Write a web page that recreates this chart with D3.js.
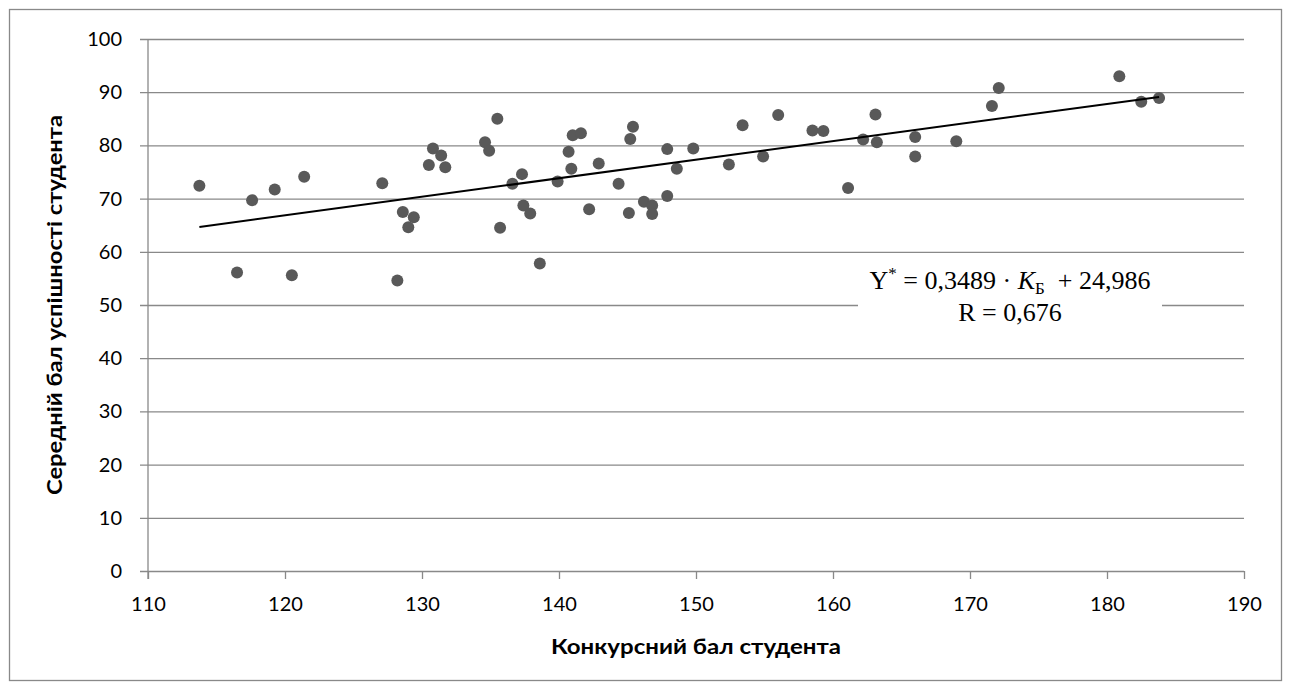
<!DOCTYPE html>
<html>
<head>
<meta charset="utf-8">
<script src="https://cdn.jsdelivr.net/npm/d3@7/dist/d3.min.js"></script>
<style>
  body { margin: 0; background: #fff; }
  svg { display: block; }
</style>
</head>
<body>
<script>
// data
var konkursBal = [113.75, 116.5, 117.6, 119.25, 120.5, 121.4, 127.1, 128.2, 128.6, 129.0,
  129.4, 130.5, 130.8, 131.4, 131.7, 134.6, 134.9, 135.5, 135.7, 136.6,
  137.3, 137.4, 137.9, 138.6, 139.9, 140.7, 140.9, 141.0, 141.6, 142.2,
  142.9, 144.35, 145.1, 145.2, 145.4, 146.2, 146.8, 146.8, 147.9, 147.9,
  148.6, 149.8, 152.4, 153.4, 154.9, 156.0, 158.5, 159.3, 161.1, 162.2,
  163.1, 163.2, 166.0, 166.0, 169.0, 171.6, 172.1, 180.9, 182.5, 183.8];
var serBal = [72.4, 56.1, 69.7, 71.7, 55.6, 74.1, 72.9, 54.6, 67.5, 64.6,
  66.5, 76.3, 79.4, 78.1, 75.9, 80.6, 79.0, 85.0, 64.5, 72.8,
  74.6, 68.7, 67.2, 57.8, 73.2, 78.8, 75.6, 81.9, 82.3, 68.0,
  76.6, 72.8, 67.3, 81.2, 83.5, 69.4, 68.7, 67.1, 70.5, 79.3,
  75.6, 79.4, 76.4, 83.8, 77.9, 85.7, 82.8, 82.7, 72.0, 81.1,
  85.8, 80.6, 81.6, 77.9, 80.8, 87.4, 90.8, 93.0, 88.2, 88.9];
var xTicks = [110, 120, 130, 140, 150, 160, 170, 180, 190];
var yTicks = [0, 10, 20, 30, 40, 50, 60, 70, 80, 90, 100];
var slope = 0.3489, intercept = 24.986;

var full_width = 1290, full_height = 689;
var margin = {top: 39, right: 46, bottom: 118, left: 148};
var width = full_width - margin.left - margin.right,
    height = full_height - margin.top - margin.bottom;

var gridColor = "#898989";

var svg = d3.select("body").append("svg")
  .attr("width", full_width)
  .attr("height", full_height);

// outer chart border
svg.append("rect")
  .attr("x", 9.5).attr("y", 9.5)
  .attr("width", 1272).attr("height", 671)
  .attr("fill", "#fff")
  .attr("stroke", gridColor)
  .attr("stroke-width", 1.3);

var g = svg.append("g")
  .attr("transform", "translate(" + margin.left + "," + margin.top + ")");

var x = d3.scaleLinear().domain([110, 190]).range([0, width]);
var y = d3.scaleLinear().domain([0, 100]).range([height, 0]);

// horizontal gridlines + y ticks
var yAxis = g.append("g")
  .call(d3.axisLeft(y).tickValues(yTicks).tickSize(-width).tickPadding(26).tickSizeOuter(0));
yAxis.select(".domain").remove();
yAxis.selectAll(".tick line")
  .attr("x1", -8)
  .attr("stroke", gridColor)
  .attr("stroke-width", 1.3);
yAxis.selectAll(".tick text")
  .attr("font-family", "Lato, 'Open Sans', sans-serif")
  .attr("font-size", "20px")
  .attr("fill", "#000");

// x axis
var xAxis = g.append("g")
  .attr("transform", "translate(0," + height + ")")
  .call(d3.axisBottom(x).tickValues(xTicks).tickSize(8).tickPadding(18).tickSizeOuter(0));
xAxis.select(".domain").remove();
xAxis.selectAll(".tick line")
  .attr("stroke", gridColor)
  .attr("stroke-width", 1.3);
xAxis.selectAll(".tick text")
  .attr("font-family", "Lato, 'Open Sans', sans-serif")
  .attr("font-size", "20px")
  .attr("fill", "#000");

// y axis line
g.append("line")
  .attr("x1", 0).attr("x2", 0)
  .attr("y1", 0).attr("y2", height + 8)
  .attr("stroke", gridColor)
  .attr("stroke-width", 1.3);

// equation box (hides the gridline behind it)
var eqX = 710, eqW = 304;
g.append("rect")
  .attr("x", eqX).attr("y", y(54.5))
  .attr("width", eqW).attr("height", y(44) - y(54.5))
  .attr("fill", "#fff");

// points
g.selectAll("circle")
  .data(konkursBal)
  .enter()
  .append("circle")
  .attr("cx", function(d) { return x(d); })
  .attr("cy", function(d, i) { return y(serBal[i]); })
  .attr("r", 6)
  .attr("fill", "#595959");

// trend line
var xmin = d3.min(konkursBal), xmax = d3.max(konkursBal);
g.append("line")
  .attr("x1", x(xmin)).attr("y1", y(slope * xmin + intercept))
  .attr("x2", x(xmax)).attr("y2", y(slope * xmax + intercept))
  .attr("stroke", "#000")
  .attr("stroke-width", 2);

// equation text
var eqCx = eqX + eqW / 2;
var eq = g.append("text")
  .attr("x", eqCx)
  .attr("y", 250)
  .attr("text-anchor", "middle")
  .attr("font-family", "'Liberation Serif', 'Times New Roman', serif")
  .attr("font-size", "26px")
  .attr("fill", "#000");
eq.append("tspan").text("Y");
eq.append("tspan").attr("dy", -10).attr("font-size", "17px").text("*");
eq.append("tspan").attr("dy", 10).text(" = 0,3489 · ");
eq.append("tspan").attr("font-style", "italic").text("K");
eq.append("tspan").attr("dy", 5).attr("font-size", "17px").text("Б");
eq.append("tspan").attr("dy", -5).attr("xml:space", "preserve").text("\u00a0 + 24,986");

g.append("text")
  .attr("x", eqCx)
  .attr("y", 282)
  .attr("text-anchor", "middle")
  .attr("font-family", "'Liberation Serif', 'Times New Roman', serif")
  .attr("font-size", "26px")
  .attr("fill", "#000")
  .text("R = 0,676");

// axis titles
svg.append("text")
  .attr("x", margin.left + width / 2)
  .attr("y", 654)
  .attr("text-anchor", "middle")
  .attr("font-family", "Lato, 'Open Sans', sans-serif")
  .attr("font-weight", "bold")
  .attr("font-size", "20px")
  .attr("textLength", 290)
  .attr("lengthAdjust", "spacingAndGlyphs")
  .attr("fill", "#000")
  .text("Конкурсний бал студента");

svg.append("text")
  .attr("transform", "translate(62," + (margin.top + height / 2) + ") rotate(-90)")
  .attr("text-anchor", "middle")
  .attr("font-family", "Lato, 'Open Sans', sans-serif")
  .attr("font-weight", "bold")
  .attr("font-size", "20px")
  .attr("textLength", 380)
  .attr("lengthAdjust", "spacingAndGlyphs")
  .attr("fill", "#000")
  .text("Середній бал успішності студента");
</script>
</body>
</html>
